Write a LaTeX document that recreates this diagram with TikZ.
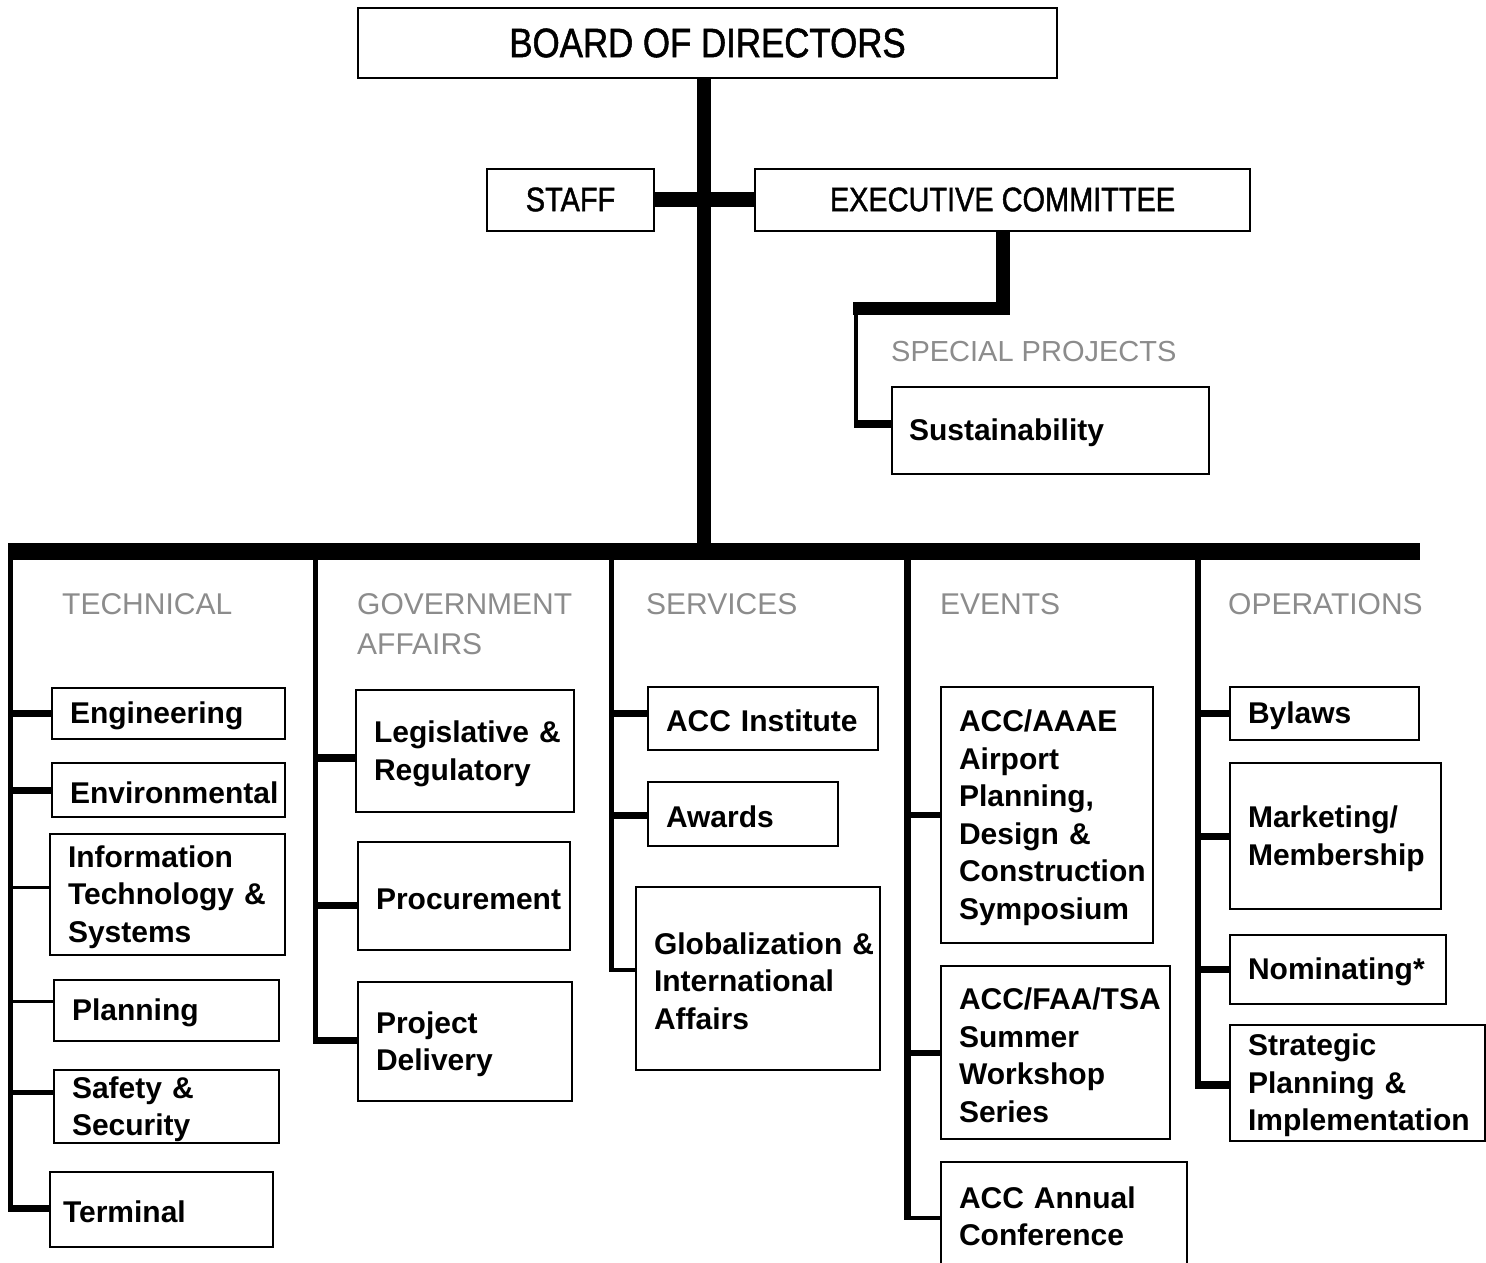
\documentclass[tikz,border=0pt]{standalone}
\usepackage{fontspec}
\setmainfont{Liberation Sans}
\newfontfamily\condfont[FakeStretch=0.85,FakeBold=1.3]{Liberation Sans}
\usetikzlibrary{backgrounds}
\hyphenpenalty=10000
\exhyphenpenalty=10000
\definecolor{hgray}{RGB}{140,140,140}
\newcommand\brn[4]{\coordinate (#1b) at ([yshift=#2pt]#1.west);\draw[line width=#3pt] (#1b) -- (#1b -| #4);}
\tikzset{
  bx/.style={draw, fill=white, line width=2pt, rectangle, align=left, inner ysep=0pt, inner xsep=18pt,
    execute at begin node={\rule{0pt}{27pt}}, font=\fontsize{30pt}{37.5pt}\selectfont\bfseries},
  headbox/.style={draw, fill=white, line width=2pt, rectangle, inner sep=0pt},
  hdr/.style={text=hgray, anchor=west, inner sep=0pt, align=left, font=\fontsize{30pt}{40pt}\selectfont},
}
\begin{document}
\begin{tikzpicture}[x=1pt,y=-1pt]
\useasboundingbox (0,0) rectangle (1486,1263);
% top
\node[headbox, minimum width=699pt, minimum height=70pt, font=\condfont\fontsize{41pt}{41pt}\selectfont] (board) at (707.5,43) {BOARD OF DIRECTORS};
\node[headbox, minimum width=167pt, minimum height=62pt, font=\condfont\fontsize{34pt}{34pt}\selectfont] (staff) at (570.5,199.5) {STAFF};
\node[headbox, minimum width=495pt, minimum height=62pt, font=\condfont\fontsize{34pt}{34pt}\selectfont] (exec) at (1002.5,199.5) {EXECUTIVE COMMITTEE};
\node[hdr, font=\fontsize{29pt}{29pt}\selectfont] (sph) at (891,352) {SPECIAL PROJECTS};
\node[bx, inner xsep=17pt, minimum width=317pt, minimum height=87pt, text width=283pt] (sust) at (1050.5,430.5) {Sustainability};
% headers
\node[hdr] (h1) at (62,604) {TECHNICAL};
\node[hdr] (h2) at (357,624) {GOVERNMENT\\AFFAIRS};
\node[hdr] (h3) at (646,604) {SERVICES};
\node[hdr] (h4) at (940,604) {EVENTS};
\node[hdr] (h5) at (1228,604) {OPERATIONS};
% technical
\node[bx, minimum width=233pt, minimum height=51pt, text width=197pt] (eng) at (168.5,713.5) {Engineering};
\node[bx, minimum width=233pt, minimum height=54pt, text width=197pt] (env) at (168.5,790) {Environmental};
\node[bx, minimum width=235pt, minimum height=121pt, text width=199pt] (info) at (167.5,894.5) {Information\\Technology~\&\\Systems};
\node[bx, minimum width=225pt, minimum height=61pt, text width=189pt] (plan) at (166.5,1010.5) {Planning};
\node[bx, minimum width=225pt, minimum height=73pt, text width=189pt] (safe) at (166.5,1106.5) {Safety~\&\\Security};
\node[bx, inner xsep=13pt, minimum width=223pt, minimum height=75pt, text width=197pt] (term) at (161.5,1209.5) {Terminal};
% government affairs
\node[bx, minimum width=218pt, minimum height=122pt, text width=182pt] (leg) at (465,751) {Legislative~\&\\Regulatory};
\node[bx, minimum width=212pt, minimum height=108pt, text width=176pt] (proc) at (464,896) {Procurement};
\node[bx, minimum width=214pt, minimum height=119pt, text width=178pt] (proj) at (465,1041.5) {Project\\Delivery};
% services
\node[bx, minimum width=230pt, minimum height=63pt, text width=194pt] (inst) at (763,718.5) {ACC~Institute};
\node[bx, minimum width=190pt, minimum height=64pt, text width=154pt] (awd) at (743,814) {Awards};
\node[bx, minimum width=244pt, minimum height=183pt, text width=208pt] (glob) at (758,978.5) {Globalization~\&\\International\\Affairs};
% events
\node[bx, minimum width=212pt, minimum height=256pt, text width=176pt] (aaae) at (1047,815) {ACC/AAAE\\Airport\\Planning,\\Design~\&\\Construction\\Symposium};
\node[bx, minimum width=229pt, minimum height=173pt, text width=193pt] (faa) at (1055.5,1052.5) {ACC/FAA/TSA\\Summer\\Workshop\\Series};
\node[bx, minimum width=246pt, minimum height=103pt, text width=210pt] (ann) at (1064,1213.5) {ACC~Annual\\Conference};
% operations
\node[bx, minimum width=189pt, minimum height=53pt, text width=153pt] (byl) at (1324.5,713.5) {Bylaws};
\node[bx, minimum width=211pt, minimum height=146pt, text width=175pt] (mkt) at (1335.5,836) {Marketing/\\Membership};
\node[bx, minimum width=216pt, minimum height=69pt, text width=180pt] (nom) at (1338,969.5) {Nominating*};
\node[bx, minimum width=255pt, minimum height=116pt, text width=219pt] (strat) at (1357.5,1083) {Strategic\\Planning~\&\\Implementation};

\begin{scope}[on background layer]
\fill[white] (0,0) rectangle (1486,1263);
% trunk and bar
\coordinate (barL) at (8,551.5);
\coordinate (barR) at (1420,551.5);
\coordinate (trk) at (704,551.5);
\draw[line width=14pt] (board.south -| trk) -- (trk);
\draw[line width=17pt] (barL) -- (barR);
\draw[line width=15pt] (staff.east) -- (exec.west);
% executive committee to special projects
\coordinate (e1) at (1003,308.5);
\coordinate (e2) at (853,308.5);
\coordinate (e3) at (856,428);
\draw[line width=13.5pt, line join=miter] (exec.south -| e1) -- (e1) -- (e2);
\draw[line width=4.5pt] (e3 |- e2) -- (e3);
\coordinate (sb) at ([yshift=6.5pt]sust.west);
\draw[line width=8pt] (sb) -- ([xshift=-2.25pt]sb -| e3);
% columns
\coordinate (tcT) at (10.5,551.5);  \coordinate (tcB) at (10.5,1212);
\coordinate (gcT) at (315.5,551.5); \coordinate (gcB) at (315.5,1043.5);
\coordinate (scT) at (611.5,551.5); \coordinate (scB) at (611.5,972);
\coordinate (ecT) at (907.5,551.5); \coordinate (ecB) at (907.5,1220);
\coordinate (ocT) at (1198,551.5);  \coordinate (ocB) at (1198,1089);
\draw[line width=5pt] (tcT) -- (tcB);
\draw[line width=5pt] (gcT) -- (gcB);
\draw[line width=5pt] (scT) -- (scB);
\draw[line width=7pt] (ecT) -- (ecB);
\draw[line width=6pt] (ocT) -- (ocB);
% branches
\brn{eng}{0}{7}{tcT}
\brn{env}{0}{7}{tcT}
\brn{info}{7}{3.5}{tcT}
\brn{plan}{9}{3.5}{tcT}
\brn{safe}{14}{5}{tcT}
\brn{term}{1}{7}{tcT}
\brn{leg}{-7}{8}{gcT}
\brn{proc}{-9}{7}{gcT}
\brn{proj}{1.5}{7}{gcT}
\brn{inst}{5.5}{7}{scT}
\brn{awd}{-1}{7}{scT}
\brn{glob}{8.5}{3.5}{scT}
\brn{aaae}{0}{6}{ecT}
\brn{faa}{-0.5}{6}{ecT}
\brn{ann}{-4.5}{4}{ecT}
\brn{byl}{0.5}{7}{ocT}
\brn{mkt}{0}{7}{ocT}
\brn{nom}{0.5}{7}{ocT}
\brn{strat}{-2}{8}{ocT}
\end{scope}
\end{tikzpicture}
\end{document}
